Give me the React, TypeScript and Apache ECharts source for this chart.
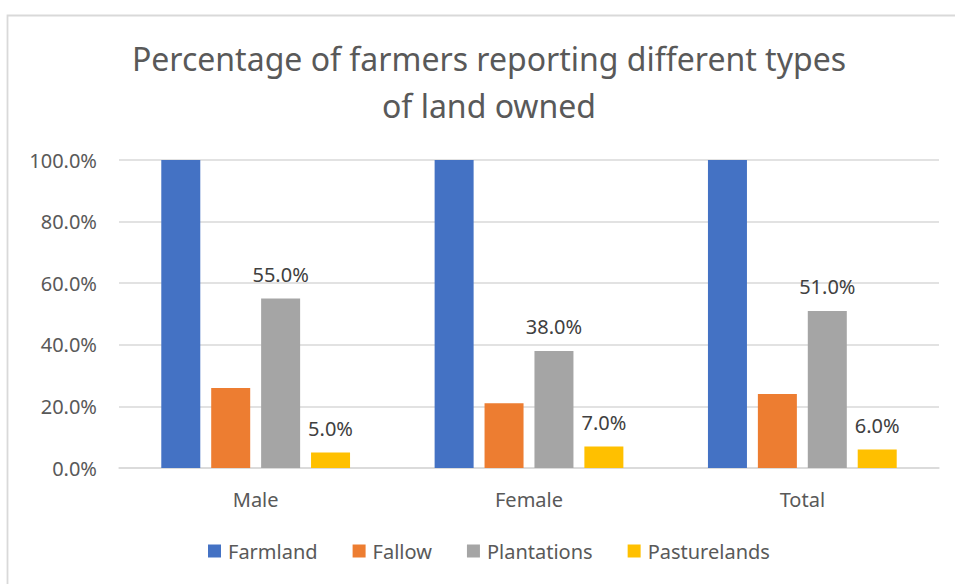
import React, { useEffect, useRef } from "react";
import * as echarts from "echarts";

const categories = ["Male", "Female", "Total"];
const seriesNames = ["Farmland", "Fallow", "Plantations", "Pasturelands"];
const farmland = [100, 100, 100];
const fallow = [26, 21, 24];
const plantations = [55, 38, 51];
const pasturelands = [5, 7, 6];
const colors = ["#4472C4", "#ED7D31", "#A5A5A5", "#FFC000"];
const titleText = "Percentage of farmers reporting different types\nof land owned";

const FONT = "'Noto Sans', 'Open Sans', sans-serif";

export default function App() {
  const ref = useRef<HTMLDivElement>(null);
  useEffect(() => {
    if (!ref.current) return;
    const chart = echarts.init(ref.current, undefined, { renderer: "svg" });
    const values = [farmland, fallow, plantations, pasturelands];
    const labelled = [false, false, true, true];
    chart.setOption({
      animation: false,
      backgroundColor: "#ffffff",
      textStyle: { fontFamily: FONT },
      graphic: [
        {
          type: "rect",
          shape: { x: 7.5, y: 15.5, width: 1000, height: 700 },
          style: { fill: "none", stroke: "#d9d9d9", lineWidth: 1.8 },
          silent: true,
        },
        {
          type: "text",
          x: 489,
          y: 35,
          silent: true,
          style: {
            text: titleText,
            fontFamily: FONT,
            fontSize: 32,
            fill: "#595959",
            lineHeight: 47,
            align: "center",
            verticalAlign: "top",
          },
        },
      ],
      legend: {
        left: 203,
        top: 536,
        itemWidth: 13,
        itemHeight: 13,
        itemGap: 35,
        icon: "rect",
        textStyle: { fontFamily: FONT, fontSize: 20, color: "#595959", padding: [0, 0, 0, 2] },
        data: seriesNames,
      },
      grid: { left: 119, right: 16, top: 160, bottom: 116, containLabel: false },
      xAxis: {
        type: "category",
        data: categories,
        axisLine: { lineStyle: { color: "#d9d9d9", width: 1.5 } },
        axisTick: { show: false },
        axisLabel: { fontFamily: FONT, fontSize: 20, color: "#595959", margin: 21 },
      },
      yAxis: {
        type: "value",
        min: 0,
        max: 100,
        interval: 20,
        axisLine: { show: false },
        axisTick: { show: false },
        splitLine: { lineStyle: { color: "#d9d9d9", width: 1.5 } },
        axisLabel: {
          fontFamily: FONT,
          fontSize: 20,
          color: "#595959",
          margin: 22,
          formatter: (v: number) => v.toFixed(1) + "%",
        },
      },
      series: seriesNames.map((name, i) => ({
        name,
        type: "bar",
        data: values[i],
        barWidth: 39,
        barGap: "28%",
        itemStyle: { color: colors[i] },
        label: {
          show: labelled[i],
          position: "top",
          distance: 14,
          fontFamily: FONT,
          fontSize: 20,
          color: "#404040",
          formatter: (p: any) => Number(p.value).toFixed(1) + "%",
        },
      })),
    });
    return () => chart.dispose();
  }, []);
  return (
    <div
      ref={ref}
      style={{ position: "fixed", left: 0, top: 0, width: 955, height: 584, background: "#fff" }}
    />
  );
}
